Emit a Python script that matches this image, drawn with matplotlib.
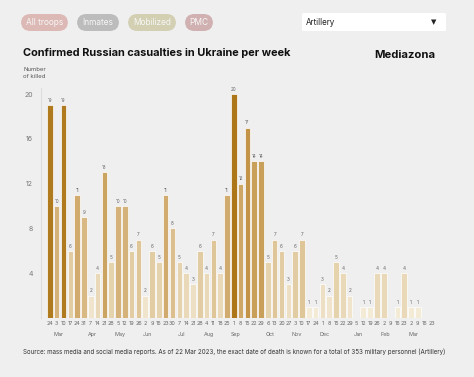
import numpy as np
import matplotlib.pyplot as plt
from matplotlib.patches import FancyBboxPatch
from matplotlib.colors import to_rgb

plt.rcParams['font.family'] = ['Inter', 'DejaVu Sans']

# weekly data, 24 Feb 2022 .. 23 Mar 2023
days = [24, 3, 10, 17, 24, 31, 7, 14, 21, 28, 5, 12, 19, 26, 2, 9, 16, 23, 30,
        7, 14, 21, 28, 4, 11, 18, 25, 1, 8, 15, 22, 29, 6, 13, 20, 27, 3, 10, 17, 24,
        1, 8, 15, 22, 29, 5, 12, 19, 26, 2, 9, 16, 23, 2, 9, 16, 23]
killed = [19, 10, 19, 6, 11, 9, 2, 4, 13, 5, 10, 10, 6, 7, 2, 6, 5, 11, 8,
          5, 4, 3, 6, 4, 7, 4, 11, 20, 12, 17, 14, 14, 5, 7, 6, 3, 6, 7, 1, 1,
          3, 2, 5, 4, 2, 0, 1, 1, 4, 4, 0, 1, 4, 1, 1, 0, 0]
months = ['Mar', 'Apr', 'May', 'Jun', 'Jul', 'Aug', 'Sep', 'Oct', 'Nov', 'Dec', 'Jan', 'Feb', 'Mar']
month_start = [1, 6, 10, 14, 19, 23, 27, 32, 36, 40, 45, 49, 53]

pills = ['All troops', 'Inmates', 'Mobilized', 'PMC']
pill_colors = ['#dcb9b5', '#bcbcbc', '#d2cfb2', '#d0b0b0']

bg = '#efefef'

# colour ramp by value
ramp_v = [0, 1, 4, 7, 11, 14, 17, 19, 20]
ramp_c = ['#f5eedc', '#f3ebd6', '#e9d9b9', '#dec698', '#d1ab6e', '#c9a05a', '#c39348', '#b07b1f', '#ad7619']
ramp_rgb = np.array([to_rgb(c) for c in ramp_c])

def bar_color(v):
    return tuple(np.interp(v, ramp_v, ramp_rgb[:, i]) for i in range(3))

fig = plt.figure(figsize=(4.74, 3.77), dpi=100, facecolor=bg)
ax = fig.add_axes([0.0865, 0.1565, 0.838, 0.6238])
ax.set_facecolor(bg)

x = np.arange(len(days))
ax.bar(x, killed, width=0.82, color=[bar_color(v) for v in killed],
       edgecolor='white', linewidth=0.5)
for xi, v in zip(x, killed):
    if v > 0:
        ax.text(xi, v + 0.2, str(v), ha='center', va='bottom', fontsize=3.3, color='#666666')

ax.set_xlim(-1.3, 57)
ax.set_ylim(0, 21)
ax.set_yticks([4, 8, 12, 16, 20])
ax.tick_params(axis='y', length=0, labelsize=5, labelcolor='#777777', pad=6)
ax.set_xticks(x, [str(d) for d in days])
ax.set_xticks(np.array(month_start) + 0.3, months, minor=True)
ax.tick_params(axis='x', which='major', length=0, labelsize=3.9, labelcolor='#666666', pad=2)
ax.tick_params(axis='x', which='minor', length=0, labelsize=3.9, labelcolor='#666666', pad=10)
for s in ['top', 'right', 'bottom']:
    ax.spines[s].set_visible(False)
ax.spines['left'].set_color('#dddddd')
ax.spines['left'].set_bounds(0, 20.5)

# header controls
pill_x = [21, 77, 128, 185]
pill_w = [47, 42, 48, 28]
for name, c, px, pw in zip(pills, pill_colors, pill_x, pill_w):
    fig.patches.append(FancyBboxPatch((px / 474, 1 - 31 / 377), pw / 474, 17 / 377,
                                      boxstyle='round,pad=0,rounding_size=0.02',
                                      transform=fig.transFigure, facecolor=c, edgecolor='none',
                                      mutation_aspect=474 / 377))
    fig.text((px + pw / 2) / 474, 1 - 22.5 / 377, name, ha='center', va='center',
             fontsize=6, color='#f7f7f7')

fig.patches.append(FancyBboxPatch((302 / 474, 1 - 31 / 377), 144 / 474, 18 / 377,
                                  boxstyle='round,pad=0,rounding_size=0.004',
                                  transform=fig.transFigure, facecolor='white', edgecolor='none'))
fig.text(306 / 474, 1 - 22.5 / 377, 'Artillery', ha='left', va='center', fontsize=5.8, color='#222222')
fig.text(434 / 474, 1 - 22.5 / 377, '\u25bc', ha='center', va='center', fontsize=5, color='#222222',
         family='DejaVu Sans')

fig.text(23 / 474, 1 - 53 / 377, 'Confirmed Russian casualties in Ukraine per week',
         ha='left', va='center', fontsize=7.9, fontweight='bold', color='#111111')
fig.text(435 / 474, 1 - 55 / 377, 'Mediazona', ha='right', va='center',
         fontsize=8.1, fontweight='bold', color='#111111')
fig.text(23 / 474, 1 - 73 / 377, 'Number\nof killed', ha='left', va='center',
         fontsize=4.3, color='#555555', linespacing=1.5)
fig.text(23 / 474, 1 - 352 / 377,
         'Source: mass media and social media reports. As of 22 Mar 2023, the exact date of death '
         'is known for a total of 353 military personnel (Artillery)',
         ha='left', va='center', fontsize=4.45, color='#333333')

fig.savefig('out.png', dpi=100, facecolor=bg)
